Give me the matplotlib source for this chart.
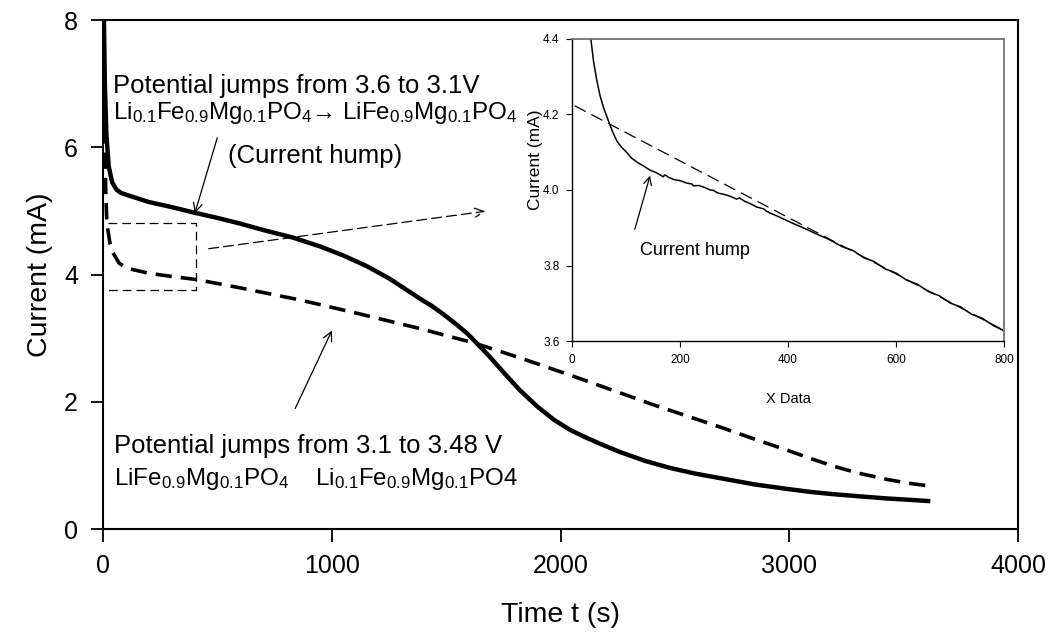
import matplotlib
matplotlib.use("Agg")
import matplotlib.pyplot as plt

plt.rcParams['font.family'] = ['Liberation Sans', 'DejaVu Sans']
plt.rcParams['mathtext.fontset'] = 'custom'
plt.rcParams['mathtext.rm'] = 'Liberation Sans'
plt.rcParams['mathtext.it'] = 'Liberation Sans:italic'
plt.rcParams['mathtext.default'] = 'regular'

# main curves: time (s) and current (mA)
t_solid = [3, 8, 15, 25, 40, 60, 80, 131, 200, 300, 402, 500, 600, 700, 831,
           950, 1050, 1154, 1250, 1386, 1440, 1490, 1540, 1590, 1626, 1690,
           1749, 1820, 1897, 1970, 2041, 2110, 2173, 2260, 2370, 2479, 2590,
           2697, 2850, 2990, 3100, 3200, 3320, 3427, 3520, 3607]
i_solid = [8.3, 7.0, 6.2, 5.7, 5.45, 5.33, 5.28, 5.22, 5.14, 5.06, 4.97, 4.89,
           4.80, 4.70, 4.58, 4.44, 4.30, 4.13, 3.94, 3.62, 3.50, 3.37, 3.23,
           3.08, 2.95, 2.71, 2.47, 2.19, 1.93, 1.72, 1.56, 1.44, 1.34, 1.21,
           1.07, 0.96, 0.87, 0.80, 0.70, 0.63, 0.58, 0.545, 0.51, 0.48, 0.46,
           0.44]

t_dash = [2, 6, 12, 17, 30, 44, 70, 103, 200, 300, 411, 600, 861, 1100, 1386,
          1626, 1823, 2041, 2260, 2400, 2550, 2700, 2850, 2990, 3100, 3191,
          3300, 3427, 3520, 3607]
i_dash = [8.3, 6.5, 5.3, 4.81, 4.50, 4.34, 4.18, 4.10, 4.02, 3.97, 3.92, 3.79,
          3.60, 3.40, 3.15, 2.92, 2.69, 2.42, 2.14, 1.96, 1.78, 1.60, 1.41,
          1.24, 1.10, 0.99, 0.88, 0.78, 0.72, 0.68]

# zoom box on the main plot
box_t = [20, 406, 406, 20]
box_i = [4.81, 4.81, 3.76, 3.76]

# inset: measured current and linear fit
x_in = [35, 40, 46, 52, 58, 67, 75, 83, 92, 101, 110, 120, 132, 144, 156, 169,
        172, 180, 190, 200, 213, 222, 225, 235, 245, 256, 262, 270, 280, 290,
        305, 310, 320, 330, 342, 355, 360, 367, 380, 395, 410, 425, 440, 455,
        470, 480, 500, 520, 540, 560, 580, 600, 620, 640, 660, 680, 700, 720,
        740, 760, 780, 800]
i_in = [4.40, 4.34, 4.29, 4.25, 4.22, 4.185, 4.155, 4.13, 4.113, 4.10, 4.085,
        4.074, 4.064, 4.053, 4.046, 4.035, 4.040, 4.033, 4.027, 4.025, 4.018,
        4.016, 4.011, 4.012, 4.007, 4.000, 3.999, 3.992, 3.989, 3.985, 3.976,
        3.979, 3.970, 3.964, 3.955, 3.950, 3.944, 3.939, 3.931, 3.921, 3.911,
        3.902, 3.892, 3.882, 3.873, 3.866, 3.850, 3.840, 3.821, 3.810, 3.791,
        3.780, 3.761, 3.750, 3.731, 3.720, 3.701, 3.690, 3.671, 3.660, 3.641,
        3.627]
x_fit = [5, 800]
i_fit = [4.223, 3.628]

fig = plt.figure(figsize=(10.52, 6.42), dpi=100)
ax = fig.add_axes([0.0979, 0.176, 0.8698, 0.7928])

ax.plot(t_solid, i_solid, color='black', lw=3.2, solid_joinstyle='round')
ax.plot(t_dash, i_dash, color='black', lw=2.6, dashes=(4.5, 2.5))
ax.plot(box_t, box_i, color='black', lw=0.9, dashes=(7, 4))

ax.set_xlim(0, 4000)
ax.set_ylim(0, 8)
ax.set_xticks([0, 1000, 2000, 3000, 4000])
ax.set_yticks([0, 2, 4, 6, 8])
ax.tick_params(direction='out', length=9, width=1.3, labelsize=18, pad=9)
for s in ax.spines.values():
    s.set_linewidth(1.5)
ax.set_xlabel('Time t (s)', fontsize=20.5, labelpad=17)
ax.set_ylabel('Current (mA)', fontsize=20.5, labelpad=8)

# annotations on the main plot
fs = 18.5
fs2 = 17.4
ax.text(44, 6.855, 'Potential jumps from 3.6 to 3.1V', fontsize=fs, va='baseline')
ax.text(44, 6.447, r'Li$_{0.1}$Fe$_{0.9}$Mg$_{0.1}$PO$_4$→ LiFe$_{0.9}$Mg$_{0.1}$PO$_4$',
        fontsize=fs2, va='baseline')
ax.text(927, 5.755, '(Current hump)', fontsize=fs, va='baseline', ha='center')
ax.annotate('', xy=(398, 4.92), xytext=(503, 6.19),
            arrowprops=dict(arrowstyle='->', lw=0.9, color='black', mutation_scale=16))

ax.text(48, 1.195, 'Potential jumps from 3.1 to 3.48 V', fontsize=fs, va='baseline')
ax.text(48, 0.692, r'LiFe$_{0.9}$Mg$_{0.1}$PO$_4$    Li$_{0.1}$Fe$_{0.9}$Mg$_{0.1}$PO4',
        fontsize=fs2, va='baseline')
ax.annotate('', xy=(1006, 3.16), xytext=(835, 1.855),
            arrowprops=dict(arrowstyle='->', lw=0.9, color='black', mutation_scale=16))

ax.annotate('', xy=(1683, 5.0), xytext=(450, 4.40),
            arrowprops=dict(arrowstyle='->', lw=0.9, color='black', ls=(0, (8, 4)),
                            mutation_scale=16))

# inset
axi = fig.add_axes([0.5437, 0.4688, 0.4107, 0.4705])
axi.plot(x_in, i_in, color='black', lw=1.1)
axi.plot(x_fit, i_fit, color='black', lw=0.9, dashes=(10, 5))
axi.set_xlim(0, 800)
axi.set_ylim(3.6, 4.4)
axi.set_xticks([0, 200, 400, 600, 800])
axi.set_yticks([3.6, 3.8, 4.0, 4.2, 4.4])
axi.set_yticklabels(['3.6', '3.8', '4.0', '4.2', '4.4'])
axi.tick_params(direction='out', length=4, width=0.8, labelsize=8.5, pad=5)
axi.spines['left'].set_linewidth(1.0)
axi.spines['bottom'].set_linewidth(1.0)
axi.spines['top'].set_color('#707070')
axi.spines['right'].set_color('#707070')
axi.spines['top'].set_linewidth(1.3)
axi.spines['right'].set_linewidth(1.3)
axi.set_xlabel('X Data', fontsize=10.5, labelpad=19)
axi.set_ylabel('Current (mA)', fontsize=12.5)
axi.yaxis.set_label_coords(-0.066, 0.6)
axi.text(126, 3.841, 'Current hump', fontsize=13, va='center')
axi.annotate('', xy=(146, 4.045), xytext=(115, 3.889),
             arrowprops=dict(arrowstyle='->', lw=0.9, color='black', mutation_scale=14))

fig.savefig('out.png', dpi=100)
